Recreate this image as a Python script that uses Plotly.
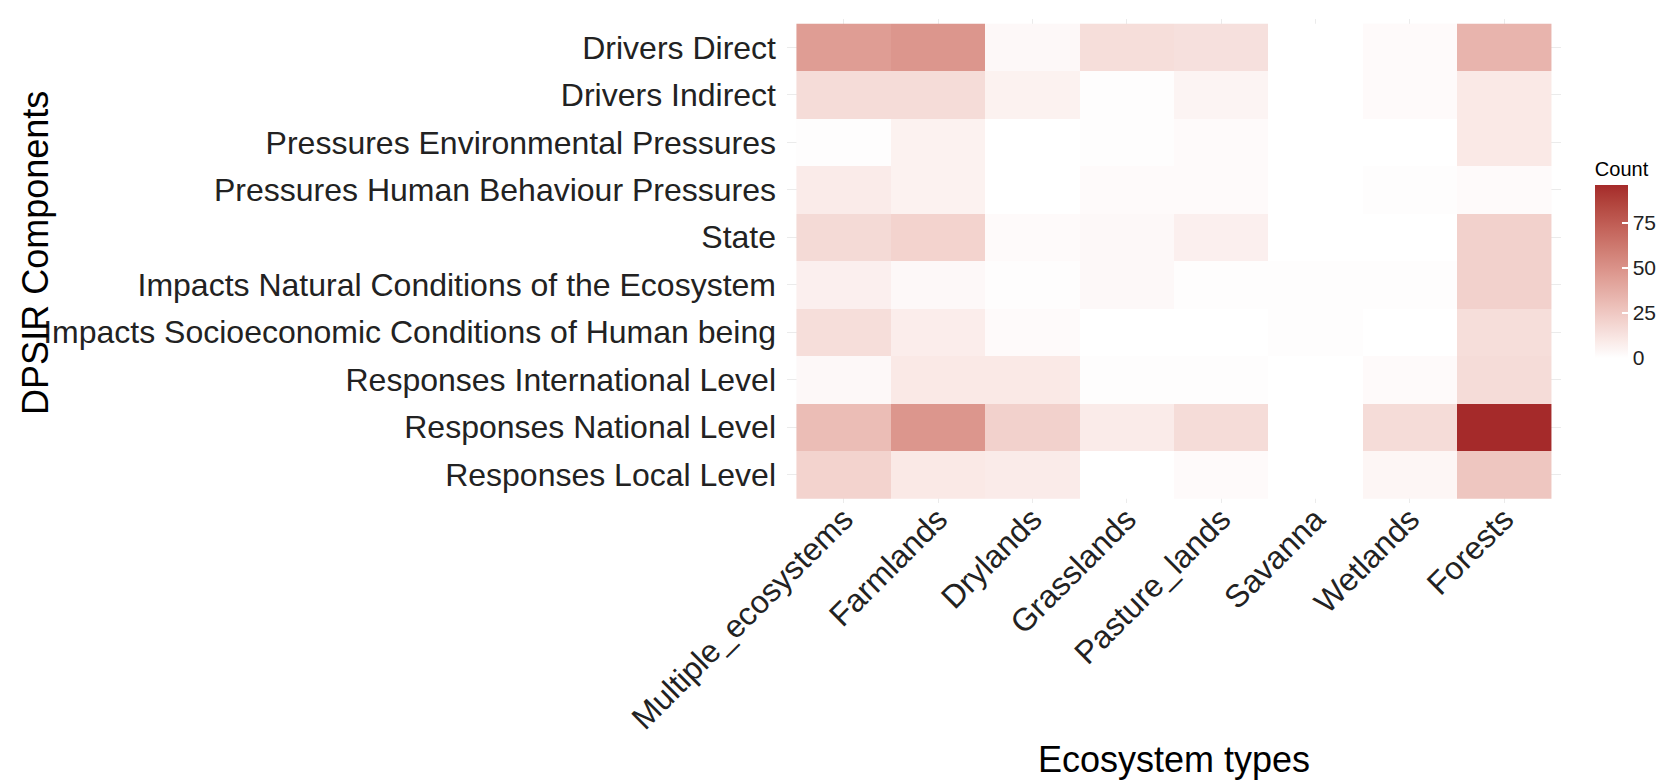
import plotly.graph_objects as go

ecosystems = ["Multiple_ecosystems", "Farmlands", "Drylands", "Grasslands",
              "Pasture_lands", "Savanna", "Wetlands", "Forests"]
components = ["Drivers Direct", "Drivers Indirect", "Pressures Environmental Pressures",
              "Pressures Human Behaviour Pressures", "State",
              "Impacts Natural Conditions of the Ecosystem",
              "Impacts Socioeconomic Conditions of Human being",
              "Responses International Level", "Responses National Level",
              "Responses Local Level"]

drivers_direct = [45, 48, 3, 15, 14, 0, 2, 34]
drivers_indirect = [16, 16, 6, 1, 5, 0, 2, 10]
pressures_env = [1, 6, 0, 1, 2, 0, 0, 10]
pressures_human = [9, 6, 0, 2, 2, 0, 1, 2]
state = [17, 20, 2, 3, 7, 0, 0, 21]
impacts_natural = [7, 3, 1, 3, 1, 1, 1, 21]
impacts_socio = [15, 8, 2, 0, 0, 1, 0, 15]
responses_international = [3, 10, 10, 1, 1, 0, 2, 16]
responses_national = [30, 48, 21, 9, 16, 0, 16, 96]
responses_local = [20, 10, 9, 0, 2, 0, 4, 26]

z = [drivers_direct, drivers_indirect, pressures_env, pressures_human, state,
     impacts_natural, impacts_socio, responses_international, responses_national,
     responses_local]

colorbar_ticks = [0, 25, 50, 75]


# colour scale white -> brown interpolated in CIE Lab (like ggplot2)
def srgb_to_lin(c):
    c = c / 255.0
    return c / 12.92 if c <= 0.04045 else ((c + 0.055) / 1.055) ** 2.4


def lin_to_srgb(c):
    c = max(0.0, min(1.0, c))
    v = 12.92 * c if c <= 0.0031308 else 1.055 * c ** (1 / 2.4) - 0.055
    return round(v * 255)


def rgb_to_lab(rgb):
    r, g, b = [srgb_to_lin(v) for v in rgb]
    x = (0.4124 * r + 0.3576 * g + 0.1805 * b) / 0.95047
    y = (0.2126 * r + 0.7152 * g + 0.0722 * b) / 1.0
    zz = (0.0193 * r + 0.1192 * g + 0.9505 * b) / 1.08883

    def f(t):
        return t ** (1 / 3) if t > 0.008856 else 7.787 * t + 16 / 116
    fx, fy, fz = f(x), f(y), f(zz)
    return (116 * fy - 16, 500 * (fx - fy), 200 * (fy - fz))


def lab_to_rgb(lab):
    L, a, b = lab
    fy = (L + 16) / 116
    fx = fy + a / 500
    fz = fy - b / 200

    def finv(t):
        return t ** 3 if t ** 3 > 0.008856 else (t - 16 / 116) / 7.787
    x, y, zz = finv(fx) * 0.95047, finv(fy), finv(fz) * 1.08883
    r = 3.2406 * x - 1.5372 * y - 0.4986 * zz
    g = -0.9689 * x + 1.8758 * y + 0.0415 * zz
    bb = 0.0557 * x - 0.2040 * y + 1.0570 * zz
    return (lin_to_srgb(r), lin_to_srgb(g), lin_to_srgb(bb))


low = rgb_to_lab((255, 255, 255))
high = rgb_to_lab((165, 42, 42))
colorscale = []
n = 20
for i in range(n + 1):
    t = i / n
    lab = tuple(low[k] + (high[k] - low[k]) * t for k in range(3))
    r, g, b = lab_to_rgb(lab)
    colorscale.append([t, f"rgb({r},{g},{b})"])

FONT = "Arial, Liberation Sans, sans-serif"

# plot area in pixels
W, H = 1665, 783
L, R, T, B = 779, 108, 11, 288
PW = W - L - R
PH = H - T - B


def xpaper(px):
    return (px - L) / PW


def ypaper(px):
    return (H - B - px) / PH


fig = go.Figure(go.Heatmap(
    z=z, x=ecosystems, y=components,
    colorscale=colorscale, zmin=0, zmax=96,
    xgap=0, ygap=0,
    colorbar=dict(
        title=dict(text="Count", side="top", font=dict(size=20, color="#000", family=FONT)),
        tickvals=colorbar_ticks,
        tickfont=dict(size=21, color="#222", family=FONT),
        ticks="inside", ticklen=6, tickcolor="white", tickwidth=1.5,
        outlinewidth=0, thickness=33,
        lenmode="pixels", len=200,
        x=xpaper(1591), xanchor="left", xpad=0,
        y=ypaper(150), yanchor="top", ypad=0,
    ),
))

fig.update_xaxes(
    range=[-0.6, 7.6], tickangle=-45,
    tickfont=dict(size=32, color="#222", family=FONT),
    showgrid=True, gridcolor="#ebebeb", gridwidth=1, zeroline=False,
    showline=False, ticks="", ticklabelstandoff=-10,
)
fig.update_yaxes(
    range=[9.6, -0.6],
    tickfont=dict(size=32, color="#222", family=FONT),
    showgrid=True, gridcolor="#ebebeb", gridwidth=1, zeroline=False,
    showline=False, ticks="", ticklabelstandoff=10,
)

fig.update_layout(
    width=W, height=H,
    margin=dict(l=L, r=R, t=T, b=B),
    plot_bgcolor="white", paper_bgcolor="white",
    font=dict(family=FONT, color="#000"),
    annotations=[
        dict(text="DPSIR Components", xref="paper", yref="paper",
             x=xpaper(23), y=ypaper(245), xanchor="center", yanchor="middle",
             textangle=-90, showarrow=False,
             font=dict(size=36, color="#000", family=FONT)),
        dict(text="Ecosystem types", xref="paper", yref="paper",
             x=0.5, y=ypaper(751), xanchor="center", yanchor="middle",
             showarrow=False, font=dict(size=36, color="#000", family=FONT)),
    ],
)

fig.write_html("out.html")
